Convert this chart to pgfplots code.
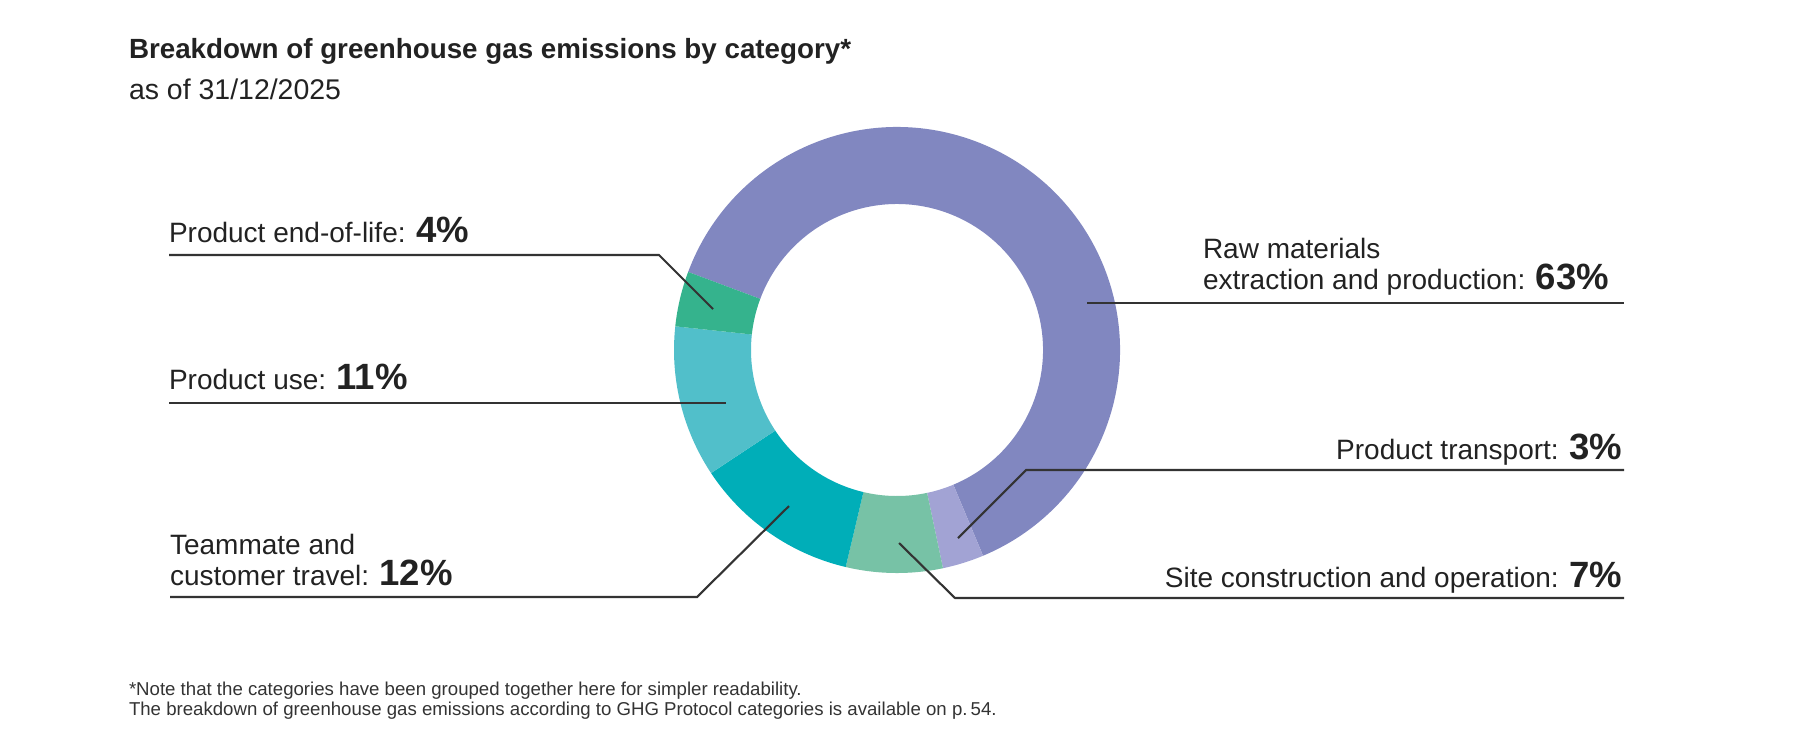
\documentclass[border=0pt]{standalone}
\usepackage{fontspec}
\setmainfont{Liberation Sans}
\usepackage{pgfplots}
\usepackage{pgfplotstable}
\pgfplotsset{compat=1.18}

\definecolor{cRaw}{HTML}{8187C0}
\definecolor{cTrans}{HTML}{A2A3D4}
\definecolor{cSite}{HTML}{77C2A6}
\definecolor{cTravel}{HTML}{00AEB8}
\definecolor{cUse}{HTML}{51BFCA}
\definecolor{cEol}{HTML}{35B38D}
\definecolor{ink}{HTML}{222222}
\definecolor{leader}{HTML}{333333}

% share of emissions (%), clockwise from the top left
\pgfplotstableread{
pct col
63 cRaw
3  cTrans
7  cSite
12 cTravel
11 cUse
4  cEol
}\slices

\newcommand{\lab}{\fontsize{7.97}{8.8}\selectfont}
\newcommand{\val}[1]{{\fontsize{10.4}{11}\selectfont\bfseries #1\%}}

\begin{document}
\begin{tikzpicture}
\tikzset{lbl/.style={inner sep=0pt, outer sep=0pt, text=ink}}
\begin{axis}[
  x=1cm, y=1cm, scale only axis,
  xmin=0, xmax=17.99, ymin=0, ymax=7.40,
  hide axis, clip=false,
]
\path (axis cs:0,0) rectangle (axis cs:17.99,7.40);

%% donut
\pgfmathsetmacro\cum{159.5}
\pgfplotsforeachungrouped \i in {0,...,5}{%
  \pgfplotstablegetelem{\i}{pct}\of\slices
  \pgfmathsetmacro\angA{\cum}
  \pgfmathsetmacro\angB{\cum-3.6*\pgfplotsretval}
  \pgfplotstablegetelem{\i}{col}\of\slices
  \edef\temp{\noexpand\fill[\pgfplotsretval]
    (axis cs:{8.97+2.23*cos(\angA)},{3.90+2.23*sin(\angA)})
    arc[start angle=\angA, end angle=\angB, radius=2.23]
    -- (axis cs:{8.97+1.46*cos(\angB)},{3.90+1.46*sin(\angB)})
    arc[start angle=\angB, end angle=\angA, radius=1.46] -- cycle;}%
  \temp
  \global\let\cum\angB
}

%% titles
\node[lbl, anchor=base west] at (axis cs:1.29,6.82)
  {\fontsize{7.9}{8}\selectfont\bfseries Breakdown of greenhouse gas emissions by category*};
\node[lbl, anchor=base west] at (axis cs:1.29,6.41)
  {\fontsize{8.1}{9}\selectfont as of 31/12/2025};

%% leader lines
\draw[leader, line width=0.6pt] (axis cs:1.69,4.85) -- (axis cs:6.59,4.85) -- (axis cs:7.13,4.31);
\draw[leader, line width=0.6pt] (axis cs:1.69,3.37) -- (axis cs:7.26,3.37);
\draw[leader, line width=0.6pt] (axis cs:1.70,1.43) -- (axis cs:6.97,1.43) -- (axis cs:7.89,2.34);
\draw[leader, line width=0.6pt] (axis cs:10.87,4.37) -- (axis cs:16.24,4.37);
\draw[leader, line width=0.6pt] (axis cs:9.58,2.02) -- (axis cs:10.26,2.70) -- (axis cs:16.24,2.70);
\draw[leader, line width=0.6pt] (axis cs:8.99,1.97) -- (axis cs:9.55,1.42) -- (axis cs:16.24,1.42);

%% labels
\node[lbl, anchor=base west] at (axis cs:1.69,4.98) {\lab Product end-of-life: \val{4}};
\node[lbl, anchor=base west] at (axis cs:1.69,3.51) {\lab Product use: \val{11}};
\node[lbl, anchor=base west] at (axis cs:1.70,1.86) {\lab Teammate and};
\node[lbl, anchor=base west] at (axis cs:1.70,1.55) {\lab customer travel: \val{12}};
\node[lbl, anchor=base west] at (axis cs:12.03,4.82) {\lab Raw materials};
\node[lbl, anchor=base west] at (axis cs:12.03,4.51) {\lab extraction and production: \val{63}};
\node[lbl, anchor=base east] at (axis cs:16.22,2.81) {\lab Product transport: \val{3}};
\node[lbl, anchor=base east] at (axis cs:16.22,1.53) {\lab Site construction and operation: \val{7}};

%% footnote
\node[lbl, anchor=base west, text=leader] at (axis cs:1.29,0.445)
  {\fontsize{5.3}{5}\selectfont *Note that the categories have been grouped together here for simpler readability.};
\node[lbl, anchor=base west, text=leader] at (axis cs:1.29,0.25)
  {\fontsize{5.3}{5}\selectfont The breakdown of greenhouse gas emissions according to GHG Protocol categories is available on p.\,54.};
\end{axis}
\end{tikzpicture}
\end{document}
